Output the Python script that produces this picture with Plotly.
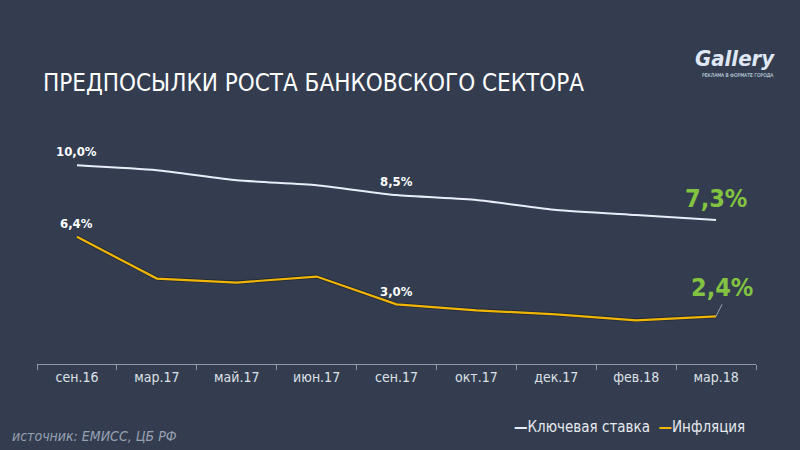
import plotly.graph_objects as go
from decimal import Decimal, ROUND_HALF_UP

categories = ["сен.16", "мар.17", "май.17", "июн.17", "сен.17", "окт.17", "дек.17", "фев.18", "мар.18"]
key_rate = [10.0, 9.75, 9.25, 9.0, 8.5, 8.25, 7.75, 7.5, 7.25]
inflation = [6.4, 4.3, 4.1, 4.4, 3.0, 2.7, 2.5, 2.2, 2.4]
series_names = ["Ключевая ставка", "Инфляция"]
title_text = "ПРЕДПОСЫЛКИ РОСТА БАНКОВСКОГО СЕКТОРА"
source_text = "источник: ЕМИСС, ЦБ РФ"

BG = "#333d4f"
WHITE_LINE = "#e8eef8"
YELLOW = "#f0b505"
GREEN = "#82c341"
FONT = "DejaVu Sans Condensed, Liberation Sans Narrow, sans-serif"


def fmt(v):
    d = Decimal(str(v)).quantize(Decimal("0.1"), rounding=ROUND_HALF_UP)
    return str(d).replace(".", ",") + "%"


fig = go.Figure()
fig.add_trace(go.Scatter(x=categories, y=inflation, mode="lines",
                         line=dict(color="rgba(20,24,30,0.5)", width=4),
                         hoverinfo="skip", showlegend=False))
fig.add_trace(go.Scatter(x=categories, y=key_rate, mode="lines", name=series_names[0],
                         line=dict(color=WHITE_LINE, width=2, shape="spline", smoothing=0.5),
                         showlegend=False))
fig.add_trace(go.Scatter(x=categories, y=inflation, mode="lines", name=series_names[1],
                         line=dict(color=YELLOW, width=2.2),
                         showlegend=False))

annotations = []
small = dict(family=FONT, size=13, color="#ffffff")
for idx in (0, 4):
    annotations.append(dict(x=categories[idx], y=key_rate[idx], text="<b>" + fmt(key_rate[idx]) + "</b>",
                            showarrow=False, yshift=14, font=small))
    annotations.append(dict(x=categories[idx], y=inflation[idx], text="<b>" + fmt(inflation[idx]) + "</b>",
                            showarrow=False, yshift=13, font=small))
big = dict(family=FONT, size=25, color=GREEN)
annotations.append(dict(x=categories[-1], y=key_rate[-1], text="<b>" + fmt(key_rate[-1]) + "</b>",
                        showarrow=False, yshift=21, font=big))
annotations.append(dict(x=categories[-1], y=inflation[-1], text="<b>" + fmt(inflation[-1]) + "</b>",
                        showarrow=True, arrowhead=0, arrowwidth=1, arrowcolor="#9aa3b0",
                        ax=6, ay=-12, standoff=0, font=big, yanchor="bottom"))

# title
annotations.append(dict(xref="paper", yref="paper", x=0.006, y=1.0, yshift=37, xanchor="left", yanchor="middle",
                        text=title_text, showarrow=False,
                        font=dict(family=FONT, size=24, color="#ffffff")))
# logo
annotations.append(dict(xref="paper", yref="paper", x=0.971, y=1.0, yshift=62, xanchor="center", yanchor="middle",
                        text="<b><i>Gallery</i></b>", showarrow=False,
                        font=dict(family=FONT, size=22, color="#dfe7f5")))
annotations.append(dict(xref="paper", yref="paper", x=0.975, y=1.0, yshift=45, xanchor="center", yanchor="middle",
                        text="РЕКЛАМА В ФОРМАТЕ ГОРОДА", showarrow=False,
                        font=dict(family=FONT, size=5, color="#dfe7f5")))
# source
annotations.append(dict(xref="paper", yref="paper", x=-0.038, y=0, yshift=-72, xanchor="left", yanchor="middle",
                        text="<i>" + source_text + "</i>", showarrow=False,
                        font=dict(family=FONT, size=14, color="#98a1b2")))
# legend
legend_text = (f"<span style='color:{WHITE_LINE}'><b>—</b></span>{series_names[0]}  "
               f"<span style='color:{YELLOW}'><b>—</b></span>{series_names[1]}")
annotations.append(dict(xref="paper", yref="paper", x=0.988, y=0, yshift=-63, xanchor="right", yanchor="middle",
                        text=legend_text, showarrow=False,
                        font=dict(family=FONT, size=15, color="#e6e9ee")))

fig.update_layout(
    width=800, height=450,
    paper_bgcolor=BG, plot_bgcolor=BG,
    margin=dict(l=37, r=44, t=120, b=86),
    showlegend=False,
    xaxis=dict(type="category", range=[-0.5, 8.5], showgrid=False, zeroline=False,
               showline=True, linecolor="#8f98a6", linewidth=1,
               ticks="outside", tickson="boundaries", ticklen=5, tickcolor="#8f98a6",
               tickfont=dict(family=FONT, size=14, color="#dde1e7")),
    yaxis=dict(range=[0, 12.28], showgrid=False, zeroline=False, showticklabels=False,
               showline=False),
    annotations=annotations,
)

fig.write_html("out.html")
